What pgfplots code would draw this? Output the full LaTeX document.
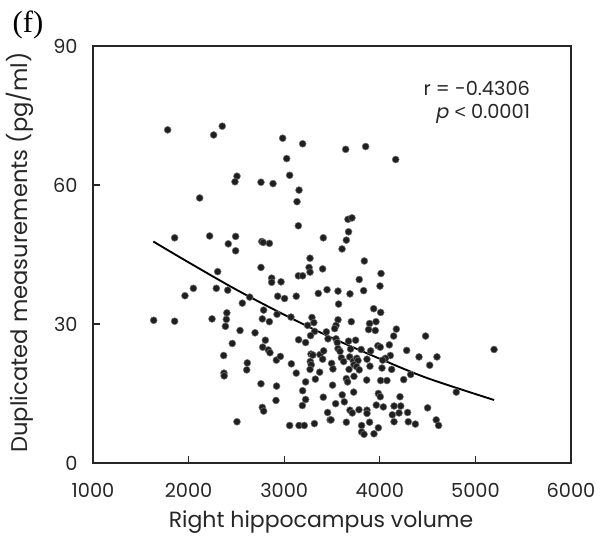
\documentclass[border=0pt]{standalone}
\usepackage{fontspec}
\setmainfont{Poppins}
\newfontfamily\seriffont{Liberation Serif}
\newfontfamily\lsans{Liberation Sans}
\usepackage{pgfplots}
\pgfplotsset{compat=1.18}
\begin{document}
\begin{tikzpicture}
\begin{axis}[
  at={(0pt,0pt)}, anchor=south west,
  scale only axis, width=358.5pt, height=312.75pt,
  xmin=1000, xmax=6000, ymin=0, ymax=90,
  xtick={1000,2000,3000,4000,5000,6000},
  ytick={0,30,60,90},
  tick align=inside, xtick pos=bottom, ytick pos=left,
  major tick length=5pt,
  axis line style={line width=1.1pt, black!85},
  every tick/.style={line width=1pt, black!85},
  /pgf/number format/assume math mode=true,
  /pgf/number format/1000 sep={},
  ticklabel style={font=\fontsize{14.5}{17}\selectfont, text=black!85},
  xticklabel style={yshift=-12pt},
  yticklabel style={xshift=-8pt},
  xlabel={Right hippocampus volume},
  ylabel={Duplicated measurements (pg/ml)},
  every axis x label/.style={at={(axis description cs:0.477,-0.1415)}, anchor=center, font=\fontsize{16.5}{19}\selectfont, text=black!85},
  every axis y label/.style={at={(axis description cs:-0.153,0.505)}, rotate=90, anchor=center, font=\fontsize{17}{20}\selectfont, text=black!85},
  clip=false,
]
\addplot[only marks, mark=*, mark size=2.6pt, mark options={fill=black!88, draw=black!55, line width=0.4pt}] coordinates {
(1781,71.9) (2262,70.8) (2352,72.7) (2506,61.9) (2485,60.7) (2757,60.6) (2116,57.2)
(1854,48.6) (2220,49.0) (2492,48.9) (2415,47.3) (2492,45.8) (2765,47.8) (2780,47.6)
(2845,47.4) (2757,42.2) (2304,41.3) (2050,37.7) (2290,37.7) (2409,37.3) (1962,36.1)
(2639,35.8)
(2562,34.5) (1635,30.8) (1854,30.6) (2245,31.1) (2400,32.4) (2395,31.0) (2385,29.5)
(2771,31.1) (2785,33.0) (2845,30.5) (2538,28.6) (2695,28.1) (2803,26.5) (2775,25.0)
(2834,24.4) (2851,23.8) (2457,25.8) (2367,23.2) (2614,21.6) (2608,20.1) (2370,19.4)
(2372,18.8) (2757,17.1) (2771,12.0) (2785,11.2) (2506,8.9)
(2984,70.1) (3193,68.9) (3026,65.7) (3643,67.7) (3852,68.3) (4166,65.5) (3057,62.1)
(2883,60.3) (3155,58.9) (3134,56.4) (3148,51.2) (3667,52.6) (3709,52.9) (3673,49.9)
(3650,48.1) (3605,46.2) (3409,48.6) (3270,44.2) (3260,42.2) (3270,41.2) (3402,41.9)
(3838,43.6) (4013,40.9) (3785,39.6) (4002,38.2) (2869,39.9) (2869,39.0) (2967,39.1)
(3148,40.4) (3193,40.4) (3357,36.6) (3448,37.4) (3563,37.1) (3688,36.5) (3831,37.2)
(2932,36.0) (3004,35.5) (3126,36.0)
(3569,34.3) (3936,33.3) (4009,32.5) (2925,32.1) (3071,31.5) (3290,31.4) (3310,30.3)
(3245,29.7) (3318,28.4) (3563,30.9) (3542,29.7) (3528,29.0) (3702,30.5) (3893,30.1)
(3960,30.5) (3883,28.8) (3953,28.6) (4173,28.9) (4145,27.4) (2918,22.2) (2960,23.0)
(3075,21.4) (3126,19.4) (3151,26.6) (3224,26.0) (3276,27.5) (3441,28.3) (3458,26.8)
(3542,26.8) (3555,26.0) (3280,23.5) (3300,23.3) (3374,23.4) (3402,22.4) (3413,24.2)
(3563,24.7) (3584,24.1) (3673,26.3) (3747,26.5) (3694,24.6) (3805,24.5) (3904,24.2)
(3980,25.3) (4005,25.0) (4100,25.5) (4110,23.2) (4060,22.6) (4030,22.2) (4281,24.3)
(3273,21.9) (3283,21.2) (3496,21.5) (3510,20.3) (3598,22.7) (3622,21.9) (3685,22.9)
(3724,22.0) (3760,22.6) (3772,22.1) (3730,21.2) (3757,20.8) (3785,20.1) (3678,20.2)
(3730,18.7) (3866,22.4) (3897,20.9) (4023,20.5) (4124,20.2) (3270,20.2) (3371,19.6)
(3326,18.1) (3224,17.5) (3650,18.2) (3663,17.5) (3727,15.3) (3863,17.9) (4009,17.8)
(4075,17.8) (4250,18.0) (3506,16.8) (2920,16.6) (2914,13.5) (3193,15.6) (3224,13.7)
(3190,12.4) (3409,14.2) (3607,14.7) (3538,12.8) (3629,13.2) (3985,15.0) (4005,14.3)
(4211,14.3) (3688,11.4) (3712,10.8) (3782,11.5) (3866,11.4) (3866,10.7) (3963,12.5)
(4037,12.1) (4149,12.3) (4219,12.3) (4131,10.4) (4201,10.8) (4291,10.9) (4149,8.9)
(4298,8.9) (3454,10.9) (3480,9.3) (3490,9.3) (3650,8.8) (3893,8.8) (3810,8.1)
(3810,6.7) (3835,6.2) (3939,6.3) (3985,7.6) (3057,8.1) (3155,8.1) (3210,8.1) (3316,8.5)
(4479,27.4) (4410,22.9) (4598,22.9) (4522,21.1) (5195,24.5) (4323,19.1) (4800,15.3)
(4500,11.9) (4372,8.4) (4590,9.3) (4615,8.1)
};
\addplot[black, line width=1.4pt, smooth] coordinates {
(1631,47.8) (2000,43.3) (2500,37.4) (3000,32.0) (3500,27.0) (4000,22.5) (4500,18.3) (5195,13.6)
};
\node[anchor=east, font=\fontsize{14.5}{17}\selectfont, text=black!85] at (axis cs:5620,80.9) {r = -0.4306};
\node[anchor=east, font=\fontsize{14.5}{17}\selectfont, text=black!85] at (axis cs:5620,75.3) {\textit{p} {\lsans <} 0.0001};
\node[font=\seriffont\fontsize{23}{26}\selectfont, anchor=center] at (axis description cs:-0.136,1.05) {(f)};
\end{axis}
\pgfresetboundingbox
\path[use as bounding box] (-69.75pt,-56.25pt) rectangle (383.25pt,347.25pt);
\end{tikzpicture}
\end{document}
